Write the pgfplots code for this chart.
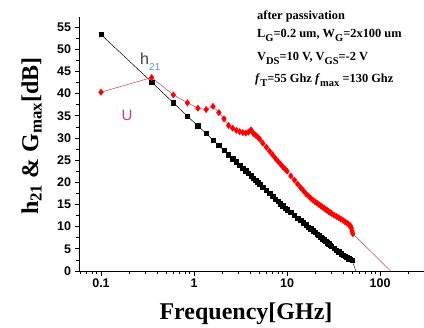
\documentclass[border=0pt]{standalone}
\usepackage{pgfplots}
\pgfplotsset{compat=1.18}
\usepackage{fontspec}
\setmainfont{Liberation Serif}
\newfontfamily\arial{Liberation Sans}
\definecolor{redline}{RGB}{200,60,85}
\definecolor{ulabel}{RGB}{205,60,100}
\definecolor{hgray}{RGB}{60,60,60}
\definecolor{hblue}{RGB}{110,140,175}
\newcommand\sub[1]{\raisebox{-0.32em}{\fontsize{10.5bp}{11bp}\selectfont #1}}

\pgfplotstableread{
f y
0.1 53.3
0.35 42.6
0.6 37.9
0.85 34.9
1.1 32.7
1.35 31.0
1.6 29.5
1.85 28.3
2.1 27.2
2.35 26.2
2.6 25.3
2.85 24.6
3.1 23.9
3.35 23.2
3.6 22.6
3.85 22.0
4.1 21.5
4.35 20.9
4.6 20.5
4.85 20.0
5.1 19.6
5.5 18.9
6 18.2
6.5 17.5
7 16.8
7.5 16.2
8 15.7
8.5 15.2
9 14.7
9.5 14.2
10 13.8
11 13.2
12 12.5
13 11.9
14 11.4
15 10.9
16 10.4
17 9.9
18 9.5
19 9.1
20 8.7
21 8.35
22 8.0
23 7.65
24 7.3
25 7.0
26 6.7
27 6.4
28 6.1
29 5.85
30 5.6
32 5.1
34 4.7
36 4.3
38 3.9
40 3.6
42 3.3
44 3.1
46 2.8
48 2.6
50 2.4
}\hdata

\pgfplotstableread{
f y
0.1 40.3
0.35 43.6
0.6 39.7
0.85 37.9
1.1 36.7
1.35 36.4
1.6 37.1
1.85 35.7
2.1 34.3
2.35 32.8
2.6 32.2
2.85 31.7
3.1 31.4
3.35 31.2
3.6 31.1
3.85 31.3
4.1 31.8
4.35 31.0
4.6 30.6
4.85 30.2
5.1 29.7
5.5 28.8
6 27.9
6.5 27.0
7 26.2
7.5 25.4
8 24.7
8.5 24.1
9 23.5
9.5 23.0
10 22.5
11 21.4
12 20.5
13 19.6
14 18.8
15 18.1
16 17.4
17 16.9
18 16.4
19 16.0
20 15.6
21 15.3
22 15.0
23 14.7
24 14.4
25 14.15
26 13.9
27 13.65
28 13.4
29 13.2
30 13.0
32 12.6
34 12.3
36 12.0
38 11.7
40 11.4
42 11.1
44 10.8
46 10.5
48 10.2
49 9.7
50 9.0
51 8.4
}\udata

\begin{document}
\begin{tikzpicture}
\begin{semilogxaxis}[
  at={(79bp,57bp)}, anchor=south west,
  scale only axis, width=345bp, height=254bp,
  xmin=0.058, xmax=297, ymin=0, ymax=57.25,
  axis x line=bottom, axis y line=left,
  axis line style={-, line width=0.8bp},
  tick align=outside, major tick length=4.5bp, minor tick length=3bp,
  tick style={black, line width=0.7bp},
  minor tick style={black, line width=0.6bp},
  xtick={0.1,1,10,100}, xticklabels={0.1,1,10,100},
  minor xtick={0.06,0.07,0.08,0.09,0.2,0.3,0.4,0.5,0.6,0.7,0.8,0.9,2,3,4,5,6,7,8,9,20,30,40,50,60,70,80,90,200},
  ytick={0,5,...,55}, minor ytick={2.5,7.5,...,52.5},
  tick label style={font=\arial\bfseries\fontsize{12.5bp}{14bp}\selectfont},
  /pgf/number format/assume math mode=true,
  clip=false,
]
\addplot[black, line width=0.5bp, mark=square*, mark size=2.2bp] table[x=f,y=y] {\hdata};
\addplot[black, line width=0.4bp] coordinates {(50,2.4) (55,0)};
\addplot[redline, line width=0.5bp, mark=diamond*, mark size=3.1bp, mark options={fill=red, draw=red}] table[x=f,y=y] {\udata};
\addplot[redline, line width=0.5bp] coordinates {(51,8.4) (130,0)};
\end{semilogxaxis}
\node[anchor=base, inner sep=0, font=\bfseries\fontsize{24bp}{28bp}\selectfont] at (246bp,9bp) {Frequency[GHz]};
\node[anchor=base, rotate=90, inner sep=0, font=\bfseries\fontsize{24bp}{28bp}\selectfont] at (38bp,192bp) {h\textsubscript{21} \& G\textsubscript{max}[dB]};
\node[anchor=base west, inner sep=0, text=hgray, font=\arial\fontsize{16bp}{18bp}\selectfont] at (140bp,263bp) {h};
\node[anchor=base west, inner sep=0, text=hblue, font=\arial\fontsize{10bp}{11bp}\selectfont] at (149bp,257bp) {21};
\node[anchor=base west, inner sep=0, text=ulabel, font=\arial\fontsize{15bp}{17bp}\selectfont] at (121.5bp,207.5bp) {U};
\begin{scope}[every node/.style={anchor=base west, inner sep=0, font=\bfseries\fontsize{12.4bp}{13bp}\selectfont}]
\node at (257bp,308.5bp) {after passivation};
\node at (257bp,290.5bp) {L\sub{G}=0.2 um, W\sub{G}=2x100 um};
\node at (257bp,267.5bp) {V\sub{DS}=10 V, V\sub{GS}=-2 V};
\node at (255bp,245bp) {\textit{f}\sub{T}=55 Ghz \textit{f}\sub{max} =130 Ghz};
\end{scope}
\pgfresetboundingbox
\path[use as bounding box] (0,0) rectangle (424bp,328bp);
\end{tikzpicture}
\end{document}
